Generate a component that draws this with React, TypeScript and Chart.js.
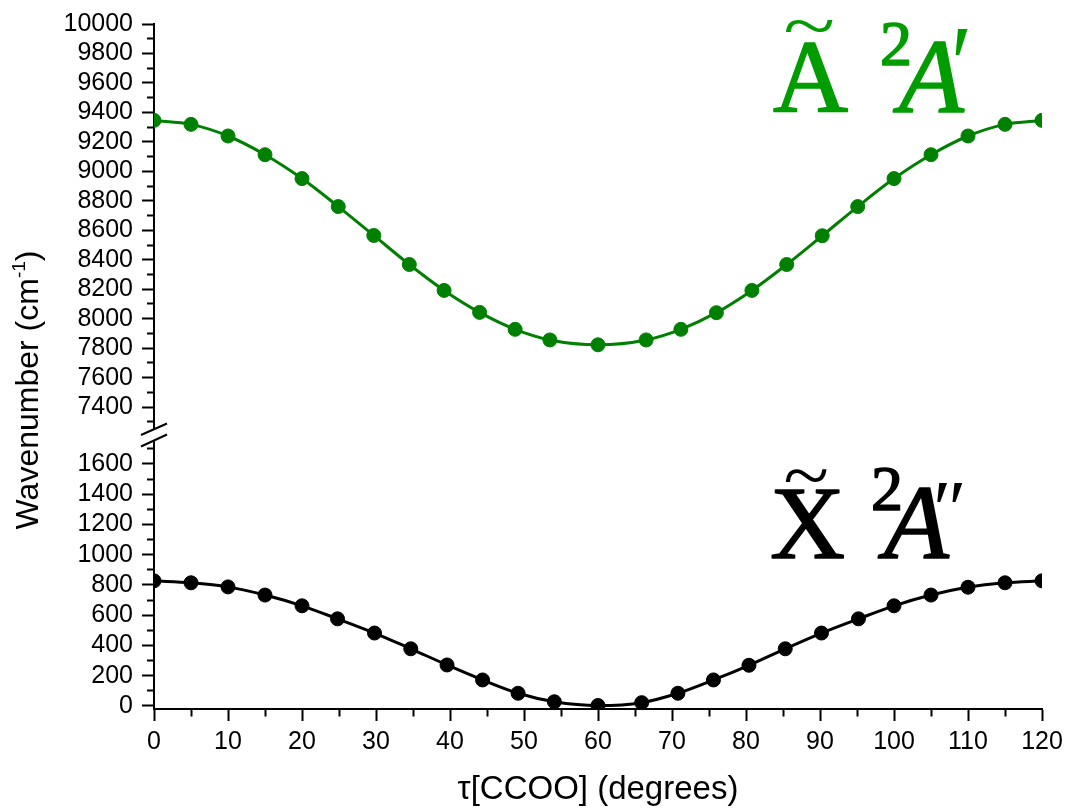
import React, { useEffect, useRef } from "react";
import { Chart, registerables } from "chart.js";

Chart.register(...registerables);

// ---- data ----
const torsionA: number[] = [0, 5, 10, 15, 20, 24.9, 29.7, 34.5, 39.2, 44, 48.8, 53.5, 60, 66.5, 71.2, 76, 80.8, 85.5, 90.3, 95.1, 100, 105, 110, 115, 120];
const energyA: number[] = [9346, 9319, 9240, 9113, 8951, 8761, 8565, 8368, 8192, 8043, 7928, 7856, 7823, 7856, 7928, 8041, 8192, 8368, 8563, 8761, 8951, 9113, 9240, 9319, 9346];
const torsionX: number[] = [0, 5, 10, 15, 20, 24.8, 29.8, 34.7, 39.6, 44.4, 49.2, 54.1, 60, 65.9, 70.8, 75.6, 80.4, 85.3, 90.2, 95.2, 100, 105, 110, 115, 120];
const energyX: number[] = [827, 814, 787, 733, 662, 576, 482, 378, 271, 172, 84, 28, 3, 22, 84, 172, 269, 378, 482, 576, 662, 733, 785, 814, 827];

const xRange: number[] = [0, 120];
const xSteps: number[] = [5, 10]; // minor, major
const yTopRange: number[] = [7170, 10000];
const yBottomRange: number[] = [-20, 1751];
const ySteps: number[] = [100, 200]; // minor, major
const yTopFirstTick = 7300;

const xTitle = "τ[CCOO] (degrees)";
const yTitleMain = "Wavenumber (cm";
const yTitleSup = "-1";
const yTitleEnd = ")";

const SANS = '"Liberation Sans", Arial, sans-serif';
const SERIF = '"Liberation Serif", "Times New Roman", serif';
const GREEN_LINE = "#008000";
const GREEN_TEXT = "#009c00";

function placeInk(ctx: CanvasRenderingContext2D, text: string, font: string, inkLeft: number, baseline: number) {
  ctx.font = font;
  const m = ctx.measureText(text);
  const x = inkLeft + m.actualBoundingBoxLeft;
  ctx.fillText(text, x, baseline);
  ctx.strokeText(text, x, baseline);
}

function fitInk(ctx: CanvasRenderingContext2D, text: string, font: string, x0: number, y0: number, x1: number, y1: number) {
  ctx.font = font;
  const m = ctx.measureText(text);
  const w = m.actualBoundingBoxLeft + m.actualBoundingBoxRight;
  const h = m.actualBoundingBoxAscent + m.actualBoundingBoxDescent;
  ctx.save();
  ctx.translate(x0, y0);
  ctx.scale((x1 - x0) / w, (y1 - y0) / h);
  ctx.fillText(text, m.actualBoundingBoxLeft, m.actualBoundingBoxAscent);
  ctx.restore();
}

const overlayPlugin = {
  id: "overlay",
  afterDraw(chart: any) {
    const ctx: CanvasRenderingContext2D = chart.ctx;
    ctx.save();
    ctx.textAlign = "left";
    ctx.textBaseline = "alphabetic";

    // axis break
    const ax = chart.chartArea.left;
    ctx.fillStyle = "#fff";
    ctx.fillRect(ax - 4, 430, 8, 10);
    ctx.strokeStyle = "#000";
    ctx.lineWidth = 2;
    ctx.beginPath();
    ctx.moveTo(ax - 13, 435);
    ctx.lineTo(ax + 13, 423.5);
    ctx.moveTo(ax - 13, 446.5);
    ctx.lineTo(ax + 13, 434.5);
    ctx.stroke();

    // y title
    ctx.fillStyle = "#000";
    ctx.save();
    ctx.translate(38, 390);
    ctx.rotate(-Math.PI / 2);
    const f1 = `32px ${SANS}`;
    const f2 = `19px ${SANS}`;
    ctx.font = f1;
    const w1 = ctx.measureText(yTitleMain).width;
    const w3 = ctx.measureText(yTitleEnd).width;
    ctx.font = f2;
    const w2 = ctx.measureText(yTitleSup).width;
    let px = -(w1 + w2 + w3) / 2;
    ctx.font = f1;
    ctx.fillText(yTitleMain, px, 0);
    px += w1;
    ctx.font = f2;
    ctx.fillText(yTitleSup, px, -13);
    px += w2;
    ctx.font = f1;
    ctx.fillText(yTitleEnd, px, 0);
    ctx.restore();

    // state labels
    ctx.lineWidth = 1.6;
    ctx.lineJoin = "round";
    ctx.fillStyle = GREEN_TEXT;
    ctx.strokeStyle = GREEN_TEXT;
    placeInk(ctx, "A", `104px ${SERIF}`, 774, 112);
    fitInk(ctx, "~", `104px ${SERIF}`, 785, 20, 833, 32);
    placeInk(ctx, "2", `64px ${SERIF}`, 882, 65);
    placeInk(ctx, "A", `italic 106px ${SERIF}`, 893, 112);
    fitInk(ctx, "′", `italic 106px ${SERIF}`, 955, 28, 968, 54);

    ctx.fillStyle = "#000";
    ctx.strokeStyle = "#000";
    placeInk(ctx, "X", `104px ${SERIF}`, 772, 558);
    fitInk(ctx, "~", `104px ${SERIF}`, 785, 469, 827, 482);
    placeInk(ctx, "2", `64px ${SERIF}`, 873, 510);
    placeInk(ctx, "A", `italic 106px ${SERIF}`, 878, 558);
    fitInk(ctx, "″", `italic 106px ${SERIF}`, 937, 483, 963, 502);

    ctx.restore();
  },
};

function yAxis(range: number[], weight: number, firstTick: number) {
  return {
    type: "linear" as const,
    position: "left" as const,
    stack: "wavenumber",
    stackWeight: weight,
    min: range[0],
    max: range[1],
    offset: false,
    afterFit: (s: any) => {
      s.width = 154;
    },
    border: { display: true, color: "#000", width: 2 },
    grid: {
      display: true,
      drawOnChartArea: false,
      drawTicks: true,
      tickLength: 12,
      tickWidth: 2,
      tickColor: (c: any) =>
        c && c.tick && Math.round(c.tick.value) < firstTick ? "rgba(0,0,0,0)" : "#000",
      tickBorderDash: (c: any) =>
        c && c.tick && Math.round(c.tick.value) % ySteps[1] !== 0 ? [0, 5, 6, 100] : [],
    },
    ticks: {
      stepSize: ySteps[0],
      autoSkip: false,
      includeBounds: false,
      padding: 9,
      color: "#000",
      font: { family: SANS, size: 25 },
      callback: (v: any) => {
        const n = Math.round(Number(v));
        return n % ySteps[1] === 0 && n >= firstTick ? String(n) : "";
      },
    },
  };
}

export default function App() {
  const ref = useRef<HTMLCanvasElement | null>(null);
  useEffect(() => {
    if (!ref.current) return;
    const chart = new Chart(ref.current, {
      type: "line",
      data: {
        datasets: [
          {
            label: "X 2A''",
            data: torsionX.map((x, i) => ({ x, y: energyX[i] })),
            yAxisID: "yBottom",
            borderColor: "#000",
            backgroundColor: "#000",
            pointBackgroundColor: "#000",
            pointBorderColor: "#000",
            borderWidth: 3,
            pointRadius: 7,
            pointBorderWidth: 1,
            cubicInterpolationMode: "monotone",
          },
          {
            label: "A 2A'",
            data: torsionA.map((x, i) => ({ x, y: energyA[i] })),
            yAxisID: "yTop",
            borderColor: GREEN_LINE,
            backgroundColor: GREEN_LINE,
            pointBackgroundColor: GREEN_LINE,
            pointBorderColor: GREEN_LINE,
            borderWidth: 3,
            pointRadius: 7,
            pointBorderWidth: 1,
            cubicInterpolationMode: "monotone",
          },
        ],
      },
      options: {
        animation: false,
        responsive: false,
        maintainAspectRatio: false,
        layout: { padding: { top: 21.7, right: 23, left: 0, bottom: 0 } },
        plugins: { legend: { display: false }, tooltip: { enabled: false } },
        scales: {
          x: {
            type: "linear",
            position: "bottom",
            min: xRange[0],
            max: xRange[1],
            afterFit: (s: any) => {
              s.height = 100;
              s.paddingRight = 20;
              s.paddingLeft = 10;
            },
            border: { display: true, color: "#000", width: 2 },
            grid: {
              display: true,
              drawOnChartArea: false,
              tickLength: 12,
              tickWidth: 2,
              tickColor: "#000",
              tickBorderDash: (c: any) =>
                c && c.tick && Math.round(c.tick.value) % xSteps[1] !== 0 ? [6.5, 100] : [],
            },
            ticks: {
              stepSize: xSteps[0],
              autoSkip: false,
              maxRotation: 0,
              padding: 6,
              color: "#000",
              font: { family: SANS, size: 25 },
              callback: (v: any) => {
                const n = Math.round(Number(v));
                return n % xSteps[1] === 0 ? String(n) : "";
              },
            },
            title: {
              display: true,
              text: xTitle,
              color: "#000",
              font: { family: SANS, size: 33 },
              padding: { top: 0, bottom: -1 },
            },
          },
          yBottom: yAxis(yBottomRange, 268.6, -1e9) as any,
          yTop: yAxis(yTopRange, 418, yTopFirstTick) as any,
        },
      } as any,
      plugins: [overlayPlugin],
    });
    return () => chart.destroy();
  }, []);
  return (
    <div style={{ position: "fixed", left: 0, top: 0, width: 1065, height: 809, background: "#fff" }}>
      <canvas ref={ref} width={1065} height={809} style={{ display: "block" }} />
    </div>
  );
}
